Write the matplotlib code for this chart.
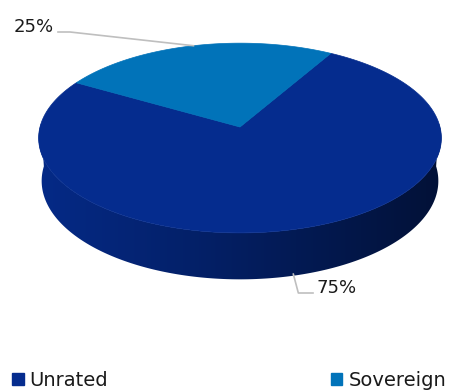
import numpy as np
import matplotlib
matplotlib.use("Agg")
import matplotlib.pyplot as plt
from matplotlib.patches import Polygon, Patch

plt.rcParams['font.family'] = ['DejaVu Sans']

# Data
categories = ["Unrated", "Sovereign"]
shares = [75, 25]
slice_colors = ["#052C8E", "#0173B9"]
label_texts = ["75%", "25%"]

# Projection of a tilted disc (light perspective)
CX, CY = 240.0, 127.0
K = 200.0
SIN_E, COS_E = 0.468, 0.884
D = 7.6
H = 0.245
START = 60.0  # angle of first slice edge (degrees, clockwise from here)


def proj(phi_deg, z):
    p = np.radians(phi_deg)
    X, Y = np.cos(p), np.sin(p)
    u = X
    v = Y * SIN_E + z * COS_E
    w = Y * COS_E - z * SIN_E
    s = 1.0 / (1.0 + w / D)
    return CX + K * u * s, CY - K * v * s


fig = plt.figure(figsize=(4.54, 3.90), dpi=100)
ax = fig.add_axes([0, 0, 1, 1])
ax.set_xlim(0, 454)
ax.set_ylim(390, 0)
ax.axis("off")

total = float(sum(shares))
spans = []
a0 = START
for v in shares:
    a1 = a0 - 360.0 * v / total
    spans.append((a0, a1))
    a0 = a1

# Outer side wall: front half of the rim, filled with a left-to-right gradient
front = np.linspace(178, 362, 300)
top_rim = [proj(p, 0) for p in front]
bot_rim = [proj(p, -H) for p in front[::-1]]
wall = Polygon(top_rim + bot_rim, closed=True, facecolor="none",
               edgecolor="none", zorder=2)
ax.add_patch(wall)
base = np.array(matplotlib.colors.to_rgb(slice_colors[0]))
xs = np.linspace(0, 454, 455)
c = np.clip((xs - CX) / K, -1, 1)
fac = 0.67 - 0.28 * c
grad = np.clip(fac[None, :, None] * base[None, None, :], 0, 1)
grad = np.repeat(grad, 2, axis=0)
img = ax.imshow(grad, extent=(0, 454, 390, 0), aspect="auto",
                interpolation="bilinear", zorder=2)
img.set_clip_path(wall)
ax.set_xlim(0, 454)
ax.set_ylim(390, 0)

# Top faces
for (a_start, a_end), col in zip(spans, slice_colors):
    phis = np.linspace(a_start, a_end, 200)
    pts = [(CX, CY)] + [proj(p, 0) for p in phis]
    ax.add_patch(Polygon(pts, closed=True, facecolor=col, edgecolor=col,
                         linewidth=0.5, zorder=3))

line_kw = dict(color="#BFBFBF", linewidth=1.2, zorder=4)
txt_kw = dict(fontsize=13, color="#1a1a1a", va="center")

# Sovereign label (back slice, leader to top rim)
mid_s = 0.5 * (spans[1][0] + spans[1][1])
rx, ry = proj(mid_s, 0)
ax.plot([58, 70, rx], [32, 32, ry], **line_kw)
ax.text(54, 27, label_texts[1], ha="right", **txt_kw)

# Unrated label (front slice, leader from bottom rim)
mid_u = 0.5 * (spans[0][0] + spans[0][1])
bx, by = proj(mid_u, -H)
ax.plot([bx - 4, bx + 1, 313], [by - 1, 293, 293], **line_kw)
ax.text(317, 288, label_texts[0], ha="left", **txt_kw)

handles = [Patch(facecolor=c, edgecolor=c) for c in slice_colors]
fig.legend(handles, categories, loc="lower left", bbox_to_anchor=(-0.012, -0.045),
           ncol=2, frameon=False, prop=dict(size=14),
           handlelength=0.6, handleheight=0.6, handletextpad=0.3,
           columnspacing=11.45, labelcolor="#1a1a1a")

fig.savefig("out.png", dpi=100)
